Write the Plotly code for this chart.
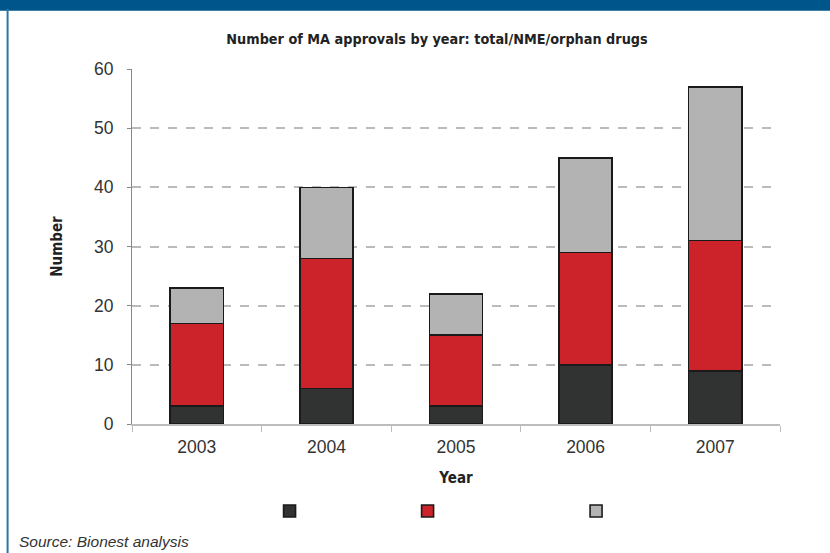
import plotly.graph_objects as go

# Marketing authorisation approvals per year, split into stacked segments
years = ["2003", "2004", "2005", "2006", "2007"]
orphan = [3, 6, 3, 10, 9]          # bottom segment
nme = [14, 22, 12, 19, 22]         # middle segment (NME)
other = [6, 12, 7, 16, 26]         # top segment (remaining approvals)

colors = ["#313332", "#cc2229", "#b2b3b2"]
series = [orphan, nme, other]
legend_ids = ["legend", "legend2", "legend3"]

narrow = "Liberation Sans Narrow, DejaVu Sans Condensed, Arial Narrow, sans-serif"
regular = "Liberation Sans, Arial, sans-serif"

fig = go.Figure()
for vals, col, lg in zip(series, colors, legend_ids):
    fig.add_trace(go.Bar(
        x=years, y=vals, name="",
        marker=dict(color=col, line=dict(color="#1a1a1a", width=1.6)),
        legend=lg, showlegend=True,
    ))

legend_style = dict(orientation="h", y=-0.245, yanchor="middle", visible=True,
                    bgcolor="rgba(0,0,0,0)", font=dict(size=12),
                    xanchor="center", itemwidth=30)

fig.update_layout(
    width=830, height=553,
    margin=dict(l=132, r=50, t=69, b=129),
    barmode="stack", bargap=0.59,
    showlegend=True,
    plot_bgcolor="white", paper_bgcolor="white",
    font=dict(family=regular, color="#333333"),
    title=dict(text="<b>Number of MA approvals by year: total/NME/orphan drugs</b>",
               x=0.5265, xanchor="center", y=0.929, yanchor="middle",
               font=dict(family=narrow, size=14.3, color="#222222")),
    xaxis=dict(
        showline=True, linecolor="#bdbdbd", linewidth=1.5,
        ticks="outside", tickson="boundaries", ticklen=6, tickcolor="#bdbdbd",
        ticklabelstandoff=6,
        tickfont=dict(size=17.5, color="#333333"),
        title=dict(text="<b>Year</b>", font=dict(family=narrow, size=15, color="#222222"),
                   standoff=17),
    ),
    yaxis=dict(
        range=[0, 60], dtick=10,
        showline=True, linecolor="#888888", linewidth=1,
        ticks="outside", ticklen=4, tickcolor="#888888",
        ticklabelstandoff=10,
        showgrid=True, gridcolor="#bbbbbb", griddash="dash", gridwidth=1.5,
        zeroline=False,
        tickfont=dict(size=17.5, color="#333333"),
        title=dict(text="<b>Number</b>", font=dict(family=narrow, size=15, color="#222222"),
                   standoff=27),
    ),
    legend=dict(legend_style, x=0.247),
    legend2=dict(legend_style, x=0.46),
    legend3=dict(legend_style, x=0.72),
    shapes=[
        # header band and left rule of the figure frame
        dict(type="rect", xref="paper", yref="paper", x0=-0.25, x1=1.1,
             y0=1.164, y1=1.25, fillcolor="#00558a", line_width=0, layer="above"),
        dict(type="line", xref="paper", yref="paper", x0=-0.192, x1=-0.192,
             y0=-0.4, y1=1.17, line=dict(color="#2f72a3", width=2)),
    ],
    annotations=[
        dict(text="<i>Source: Bionest analysis</i>", xref="paper", yref="paper",
             x=-0.178, y=-0.33, xanchor="left", yanchor="middle", showarrow=False,
             font=dict(family=regular, size=15.5, color="#333333")),
    ],
)

fig.write_html("out.html")
